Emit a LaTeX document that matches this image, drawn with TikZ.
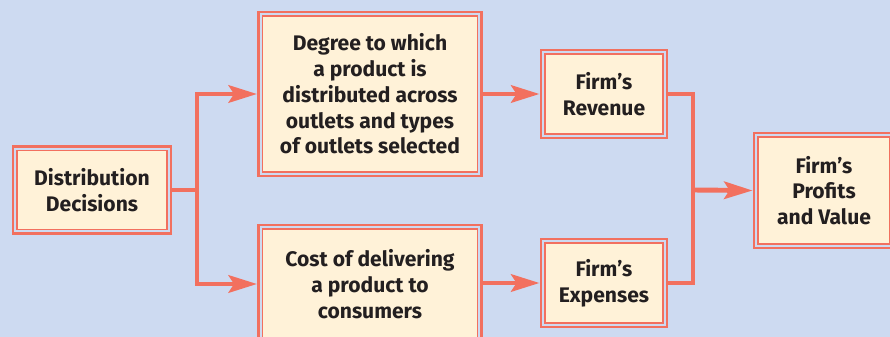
\documentclass[tikz,border=0pt]{standalone}
\usepackage{fontspec}
\setmainfont{Fira Sans}
\usetikzlibrary{arrows.meta}
\definecolor{bgblue}{HTML}{CDDAF1}
\definecolor{boxred}{HTML}{F2705F}
\definecolor{boxfill}{HTML}{FFF2D8}
\definecolor{txtgray}{HTML}{231F20}
\begin{document}
\begin{tikzpicture}[
        x=0.03cm, y=-0.03cm,
        font=\fontsize{18}{22}\selectfont\bfseries,
        text=txtgray,
        block/.style={
            rectangle, draw=boxred, fill=bgblue,
            line width=2.5pt, align=center, inner sep=2pt,
            path picture={
                \draw[boxred, fill=boxfill, line width=1.1pt]
                    ([shift={(3.5pt,3.5pt)}]path picture bounding box.south west)
                    rectangle
                    ([shift={(-3.5pt,-3.5pt)}]path picture bounding box.north east);
            }
        },
        arr/.style={-{Stealth[length=8.5mm, width=5.2mm, inset=1.6mm]},
            draw=boxred, line width=4.2pt},
        link/.style={draw=boxred, line width=4.2pt, line join=miter}
    ]

    % Background
    \fill[bgblue] (0,0) rectangle (890,337);
    \clip (0,0) rectangle (890,337);

    % Boxes
    \node[block, minimum width=4.74cm, minimum height=2.61cm]
        (dist) at (92, 190) {Distribution\\Decisions};
    \node[block, minimum width=6.69cm, minimum height=4.92cm]
        (reach) at (370, 94)
        {Degree to which\\a product is\\distributed across\\outlets and types\\of outlets selected};
    \node[block, minimum width=6.69cm, minimum height=3.54cm]
        (cost) at (370, 284)
        {Cost of delivering\\a product to\\consumers};
    \node[block, minimum width=3.78cm, minimum height=2.64cm]
        (rev) at (604, 94) {Firm’s\\Revenue};
    \node[block, minimum width=3.78cm, minimum height=2.64cm]
        (exp) at (604, 283) {Firm’s\\Expenses};
    \node[block, minimum width=4.2cm, minimum height=3.45cm]
        (profit) at (824, 190.5) {Firm’s\\Profits\\and Value};

    % Split and join points
    \coordinate (split) at (197, 190);
    \coordinate (join) at (693, 190);

    % Connectors
    \draw[link] (dist.east) -- (split);
    \draw[arr] (split) |- (reach.west);
    \draw[arr] (split) |- (cost.west);
    \draw[arr] (reach.east) -- (rev.west);
    \draw[arr] (cost.east |- exp.west) -- (exp.west);
    \draw[link] (rev.east) -| (join) |- (exp.east);
    \draw[arr] (join) -- (profit.west);

\end{tikzpicture}
\end{document}
